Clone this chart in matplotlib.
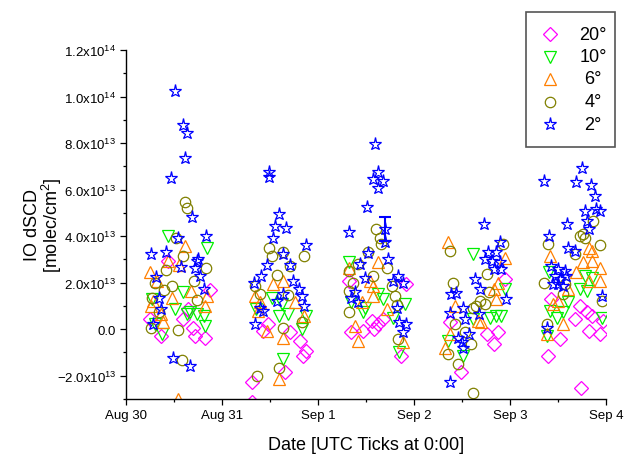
import numpy as np
import matplotlib
matplotlib.use("Agg")
import matplotlib.pyplot as plt
import matplotlib.dates as mdates
from matplotlib.lines import Line2D
from matplotlib.patches import Rectangle
from matplotlib.ticker import MultipleLocator, FuncFormatter

plt.rcParams['font.family'] = ['Liberation Sans', 'DejaVu Sans']
plt.rcParams['mathtext.fontset'] = 'custom'
plt.rcParams['mathtext.rm'] = 'Liberation Sans'
plt.rcParams['mathtext.it'] = 'Liberation Sans:italic'
plt.rcParams['axes.unicode_minus'] = False

# time = days after Aug 30 00:00 UTC, value = IO dSCD in 1e13 molec/cm2
t_20 = [0.875, 0.65, 0.60, 0.70, 0.82, 0.72, 0.37, 0.25, 0.44,
        1.48, 1.71, 1.81, 1.88, 1.85, 1.66, 1.31, 1.31, 1.43,
        2.32, 2.92, 2.56, 2.63, 2.59, 2.68, 2.35, 2.47, 2.87,
        3.95, 3.88, 3.84, 3.76, 3.38, 3.49,
        4.43, 4.73, 4.80, 4.86, 4.97, 4.68, 4.82, 4.94, 4.52, 4.40, 4.74]
v_20 = [1.69, 0.86, 0.43, 0.07, -0.36, -0.29, -0.29, 0.43, 2.94,
        0.22, -0.14, -0.50, -0.93, -1.15, -1.86, -2.27, -3.15, -0.07,
        2.08, 1.94, 0.36, 0.22, 0.00, 0.43, -0.14, -0.07, -1.15,
        2.15, -0.14, -0.65, -0.22, 0.29, -1.86,
        1.29, 1.00, 0.72, 0.57, 0.36, 0.43, -0.07, -0.22, -0.43, -1.15, -2.51]

t_10 = [0.44, 0.85, 0.60, 0.27, 0.51, 0.67, 0.81, 0.38, 0.30, 0.82, 0.64, 0.74,
        1.52, 1.59, 1.69, 1.88, 1.83, 1.64, 1.63, 1.36,
        2.32, 2.63, 2.35, 2.49, 2.68, 2.91, 2.78, 2.85, 2.47,
        3.62, 3.95, 3.79, 3.86, 3.91, 3.36, 3.51, 3.62,
        4.41, 4.78, 4.86, 4.73, 4.80, 4.61, 4.55, 4.49, 4.42, 4.96, 4.39]
v_10 = [4.01, 3.51, 1.58, 1.29, 0.86, 0.72, 0.57, -0.22, 0.22, 0.14, 0.67, 0.65,
        1.36, 0.57, 0.65, 0.57, 0.00, -1.29, 1.07, 0.86,
        2.87, 1.51, 1.15, 0.93, 1.29, 1.07, 0.50, -0.97, 0.72,
        3.23, 1.72, 0.50, 0.57, 0.57, -0.50, -1.15, 0.43,
        2.44, 2.29, 2.22, 1.72, 1.65, 1.15, 0.72, 0.50, 0.79, 0.50, -0.29]

t_6 = [0.615, 0.44, 0.25, 0.55, 0.68, 0.84, 0.48, 0.28, 0.82, 0.37, 0.26, 0.39, 0.32, 0.545,
       1.64, 1.53, 1.34, 1.38, 1.86, 1.47, 1.64, 1.59, 1.76, 1.40,
       2.32, 2.63, 2.54, 2.46, 2.58, 2.72, 2.39, 2.42, 2.89, 2.58,
       3.36, 3.95, 3.88, 3.84, 3.43, 3.67, 3.70, 3.38, 3.33, 3.86,
       4.42, 4.83, 4.86, 4.76, 4.86, 4.94, 4.83, 4.94, 4.69, 4.61, 4.50, 4.45, 4.55, 4.39]
v_6 = [3.58, 2.94, 2.47, 2.75, 1.65, 1.43, 1.36, 1.22, 1.00, 0.65, 1.00, 0.29, 2.08, -3.00,
       2.08, 1.94, 1.43, 0.79, 0.57, -0.07, -0.36, -2.15, 1.15, 1.15,
       2.65, 2.87, 2.08, 1.15, 1.43, 0.86, 0.14, -0.50, -0.57, 1.86,
       3.73, 3.08, 2.00, 1.72, 1.00, 0.36, 0.29, -0.22, -0.79, 1.29,
       3.15, 3.51, 3.37, 2.87, 2.94, 2.65, 2.08, 2.08, 2.44, 1.72, 1.22, 1.07, 0.22, -0.22]

t_4 = [0.615, 0.64, 0.59, 0.52, 0.42, 0.83, 0.30, 0.48, 0.71, 0.40, 0.27, 0.74, 0.34, 0.26, 0.54, 0.58,
       1.49, 1.52, 1.64, 1.86, 1.57, 1.40, 1.69, 1.83, 1.64, 1.59, 1.37, 1.71, 1.34,
       2.61, 2.65, 2.66, 2.52, 2.72, 2.42, 2.32, 2.58, 2.37, 2.33, 2.77, 2.80, 2.32, 2.84, 2.82,
       3.38, 3.93, 3.76, 3.41, 3.78, 3.74, 3.62, 3.65, 3.69, 3.43, 3.53, 3.60, 3.36, 3.46, 3.62,
       4.87, 4.76, 4.73, 4.78, 4.94, 4.40, 4.68, 4.36, 4.57, 4.55, 4.96, 4.39]
v_4 = [5.48, 5.23, 3.15, 3.91, 2.54, 2.61, 1.98, 1.86, 2.05, 1.69, 1.36, 1.26, 0.72, 0.07, -0.04, -1.33,
       3.51, 3.13, 3.30, 3.13, 2.32, 1.51, 1.46, 0.29, 0.03, -1.65, -2.01, 2.72, 1.86,
       4.30, 3.94, 3.66, 3.30, 2.65, 2.80, 2.51, 2.29, 2.00, 1.65, 1.86, 1.43, 0.72, -0.43, 1.05,
       3.37, 3.66, 2.37, 2.00, 1.61, 1.07, 0.93, 1.00, 1.22, 0.22, -0.14, -0.65, -1.07, -1.51, -2.75,
       4.66, 4.09, 4.01, 3.94, 3.61, 3.66, 3.23, 2.00, 1.94, 1.51, 1.22, 0.22]

t_2 = [0.51, 0.59, 0.64, 0.615, 0.47, 0.69, 0.83, 0.54, 0.26, 0.42, 0.57, 0.74, 0.77, 0.31,
       0.81, 0.34, 0.37, 0.28, 0.49, 0.67, 0.72, 0.75,
       1.49, 1.49, 1.60, 1.55, 1.67, 1.53, 1.88, 1.64, 1.71, 1.47, 1.41, 1.33, 1.74, 1.80,
       1.64, 1.83, 1.57, 1.86, 1.40, 1.43, 1.34,
       2.60, 2.63, 2.58, 2.68, 2.63, 2.51, 2.32, 2.70, 2.70, 2.73, 2.52, 2.44, 2.49, 2.78,
       2.89, 2.84, 2.39, 2.35, 2.42, 2.82, 2.85, 2.92, 2.89,
       3.73, 3.90, 3.77, 3.86, 3.81, 3.74, 3.90, 3.84, 3.91, 3.64, 3.69, 3.39, 3.44, 3.96,
       3.51, 3.38, 3.53, 3.68, 3.58, 3.46, 3.50, 3.51, 3.38,
       4.75, 4.36, 4.69, 4.85, 4.89, 4.78, 4.90, 4.94, 4.60, 4.80, 4.82, 4.41, 4.61, 4.68,
       4.43, 4.50, 4.57, 4.47, 4.52, 4.59, 4.45, 4.50, 4.55, 4.96, 4.39]
v_2 = [10.25, 8.79, 8.43, 7.38, 6.49, 4.83, 4.01, 3.90, 3.24, 3.33, 2.68, 2.94, 2.29, 2.25,
       1.72, 1.36, 0.86, 0.22, -1.22, -1.58, 2.65, 3.00,
       6.77, 6.53, 4.95, 4.44, 4.37, 3.90, 3.61, 3.23, 2.75, 2.75, 2.29, 2.00, 2.08, 1.72,
       1.51, 1.43, 1.22, 1.00, 0.93, 0.79, 0.22,
       7.96, 6.74, 6.45, 6.38, 6.09, 5.26, 4.18, 4.30, 3.73, 3.01, 3.27, 2.80, 2.22, 2.08,
       2.00, 2.29, 1.58, 1.36, 1.15, 0.93, 0.29, 0.22, -0.14,
       4.52, 3.76, 3.30, 3.30, 2.94, 3.01, 2.87, 2.58, 2.58, 2.15, 1.72, 1.51, 1.55, 1.29,
       0.93, 0.69, 0.43, 0.65, -0.22, -0.36, -0.57, -0.79, -2.29,
       6.95, 6.38, 6.31, 6.19, 5.73, 5.09, 5.16, 5.09, 4.52, 4.66, 4.30, 3.99, 3.51, 3.37,
       2.72, 2.58, 2.51, 2.29, 2.15, 2.29, 1.94, 1.94, 1.86, 1.43, 0.07]

# one representative error bar
err_t = [2.70]
err_v = [4.30]
err_e = [0.52]

labels = ['20°', '10°', '6°', '4°', '2°']
start = np.datetime64('2008-08-30T00:00')


def to_dates(days):
    return start + (np.array(days) * 24 * 60).round().astype('timedelta64[m]')


W, H = 639, 456
fig = plt.figure(figsize=(W / 100, H / 100), dpi=100)
ax = fig.add_axes([0.197, 0.123, 0.751, 0.765])

series = [
    (t_20, v_20, 'D', '#ff00ff', 7.0),
    (t_10, v_10, 'v', '#00ee00', 8.5),
    (t_6, v_6, '^', '#ff7f00', 8.5),
    (t_4, v_4, 'o', '#808000', 7.5),
    (t_2, v_2, '*', '#0000ff', 9.5),
]
for t, v, m, c, ms in series:
    ax.plot(to_dates(t), np.array(v) * 1e13, ls='none', marker=m, ms=ms,
            mfc='none', mec=c, mew=0.9)

ax.errorbar(to_dates(err_t), np.array(err_v) * 1e13, yerr=np.array(err_e) * 1e13,
            fmt='none', ecolor='#0000ff', elinewidth=1.5, capsize=4, capthick=1.5)

ax.set_xlim(to_dates([0])[0], to_dates([5])[0])
ax.set_ylim(-3e13, 1.2e14)

ax.xaxis.set_major_locator(mdates.DayLocator())
ax.xaxis.set_minor_locator(mdates.HourLocator(byhour=[12]))
ax.xaxis.set_major_formatter(FuncFormatter(
    lambda x, pos: '{:%b} {}'.format(mdates.num2date(x), mdates.num2date(x).day)))


def yfmt(y, pos):
    if abs(y) < 1:
        return '0.0'
    e = int(np.floor(np.log10(abs(y))))
    return r'$\mathregular{%.1fx10^{%d}}$' % (y / 10 ** e, e)


ax.yaxis.set_major_locator(MultipleLocator(2e13))
ax.yaxis.set_minor_locator(MultipleLocator(1e13))
ax.yaxis.set_major_formatter(FuncFormatter(yfmt))

for s in ['top', 'right']:
    ax.spines[s].set_visible(False)
for s in ['left', 'bottom']:
    ax.spines[s].set_linewidth(1.0)
ax.tick_params(which='major', direction='out', length=4.5, width=0.9, labelsize=9.5, pad=2.5)
ax.tick_params(which='minor', direction='out', length=2.5, width=0.9)

ax.set_xlabel('Date [UTC Ticks at 0:00]', fontsize=13, labelpad=11)
ax.set_ylabel('IO dSCD\n[molec/cm$^2$]', fontsize=13, linespacing=0.95)
ax.yaxis.set_label_coords(-0.128, 0.5)

# legend box drawn by hand (pixel layout of the original)
fig.patches.append(Rectangle((526 / W, 1 - 148 / H), 89 / W, 135 / H, transform=fig.transFigure,
                             fill=True, fc='white', ec='#555555', lw=1.2, zorder=5))
for i, ((t, v, m, c, ms), lab) in enumerate(zip(series, labels)):
    yy = 1 - (35 + 22.5 * i) / H
    fig.lines.append(Line2D([550 / W], [yy], transform=fig.transFigure, ls='none', marker=m,
                            ms=ms, mfc='none', mec=c, mew=0.9, zorder=6))
    fig.text(593 / W, yy, lab, fontsize=13, ha='center', va='center', zorder=6)

fig.savefig('out.png', dpi=100)
